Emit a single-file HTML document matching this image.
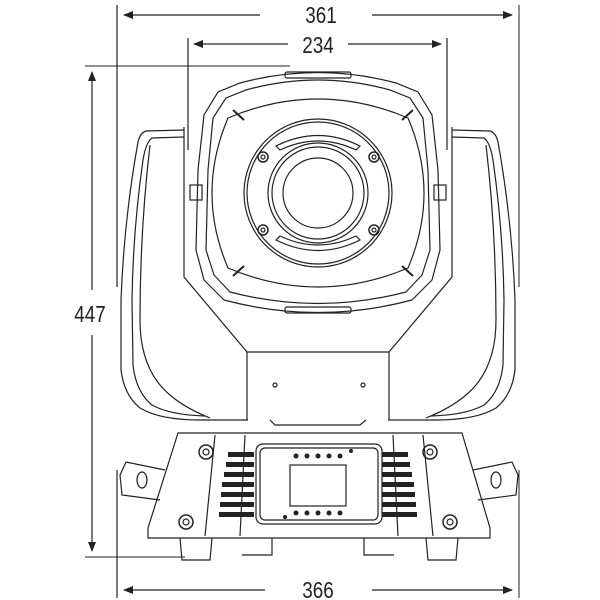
<!DOCTYPE html>
<html><head><style>html,body{margin:0;padding:0;background:#fff}svg{display:block}</style></head>
<body>
<svg width="600" height="600" viewBox="0 0 600 600" xmlns="http://www.w3.org/2000/svg">
<defs>
<marker id="a" markerWidth="10" markerHeight="8" refX="9" refY="4" orient="auto" markerUnits="userSpaceOnUse"><path d="M0,0 L10,4 L0,8 Z" fill="#222"/></marker>
</defs>
<g stroke="#222" stroke-width="1.2" fill="none">
<!-- dimension lines -->
<line x1="117" y1="5" x2="117" y2="287"/>
<line x1="117" y1="470" x2="117" y2="598"/>
<line x1="519" y1="5" x2="519" y2="287" stroke-width="1"/>
<line x1="519" y1="470" x2="519" y2="598" stroke-width="1"/>
<line x1="260" y1="15" x2="124" y2="15" marker-end="url(#a)"/>
<line x1="372" y1="15" x2="512" y2="15" marker-end="url(#a)"/>
<line x1="188" y1="38" x2="188" y2="150"/>
<line x1="447" y1="38" x2="447" y2="150"/>
<line x1="288" y1="44" x2="194" y2="44" marker-end="url(#a)"/>
<line x1="348" y1="44" x2="441" y2="44" marker-end="url(#a)"/>
<line x1="85" y1="66" x2="290" y2="66" stroke-width="1"/>
<line x1="85" y1="557" x2="185" y2="557" stroke-width="1"/>
<line x1="92" y1="290" x2="92" y2="72" marker-end="url(#a)"/>
<line x1="92" y1="335" x2="92" y2="551" marker-end="url(#a)"/>
<line x1="265" y1="590" x2="124" y2="590" marker-end="url(#a)"/>
<line x1="372" y1="590" x2="512" y2="590" marker-end="url(#a)"/>

<!-- yoke arms -->
<path d="M184,130 L146,131 Q140,133 138,142 Q124,220 121,300 L121,370 Q124,395 140,408 Q160,420 200,420 L248,420"/>
<path d="M184,137 L152,138 Q146,142 143,160 Q133,230 132,300 L133,365 Q136,392 152,405 Q170,415 205,416"/>
<path d="M150,145 Q140,230 140,320 Q140,370 170,395 Q185,408 210,418"/>
<path d="M452,130 L490,131 Q496,133 498,142 Q512,220 515,300 L515,370 Q512,395 496,408 Q476,420 436,420 L388,420"/>
<path d="M452,137 L484,138 Q490,142 493,160 Q503,230 504,300 L503,365 Q500,392 484,405 Q466,415 431,416"/>
<path d="M486,145 Q496,230 496,320 Q496,370 466,395 Q451,408 426,418"/>
<path d="M184,127 L184,277 L247,352 L247,420"/>
<path d="M452,127 L452,277 L389,352 L389,420"/>
<line x1="247" y1="352" x2="389" y2="352"/>
<circle cx="275" cy="385" r="2"/><circle cx="363" cy="385" r="2"/>

<!-- head -->
<path d="M240,83 Q318,62 396,83 L418,92 L432,115 L438,170 L440,250 L432,280 L412,300 Q318,325 224,300 L204,280 L196,250 L198,170 L204,115 L218,92 Z"/>
<path d="M246,90 Q318,70 390,90 L410,98 L423,118 L428,170 L430,250 L422,275 L406,292 Q318,315 230,292 L214,275 L206,250 L208,170 L213,118 L226,98 Z"/>
<path d="M228,118 Q318,80 408,118 Q440,193 408,268 Q318,306 228,268 Q196,193 228,118 Z"/>
<rect x="285" y="72" width="66" height="6" rx="2"/>
<rect x="285" y="307" width="66" height="6" rx="2"/>
<path d="M233,110 L244,120 M402,120 L413,110 M233,276 L244,266 M402,266 L413,276" stroke-width="2"/>
<rect x="190" y="185" width="12" height="15"/>
<rect x="434" y="185" width="12" height="15"/>
<!-- lens -->
<circle cx="318" cy="193" r="74"/>
<circle cx="318" cy="193" r="71"/>
<circle cx="318" cy="193" r="50"/>
<circle cx="318" cy="193" r="46"/>
<circle cx="318" cy="193" r="35"/>
<path d="M276,146 Q318,125 360,146 L356,150 Q318,132 280,150 Z"/>
<path d="M276,240 Q318,261 360,240 L356,236 Q318,254 280,236 Z"/>
<g stroke-width="1.5"><circle cx="263" cy="157" r="5"/><circle cx="374" cy="157" r="5"/><circle cx="263" cy="230" r="5"/><circle cx="374" cy="230" r="5"/></g>
<g><circle cx="263" cy="157" r="2"/><circle cx="374" cy="157" r="2"/><circle cx="263" cy="230" r="2"/><circle cx="374" cy="230" r="2"/></g>

<!-- base -->
<path d="M270,420 L275,425 L360,425 L366,420"/>
<path d="M178,433 L462,433 L490,528 L490,538 L148,538 L148,528 Z"/>
<path d="M215,435 L205,536 M245,435 L240,536 M393,435 L398,536 M423,435 L433,536"/>
<rect x="256" y="444" width="126" height="80" rx="7"/>
<rect x="260" y="448" width="118" height="72" rx="5"/>
<rect x="290" y="465" width="56" height="41"/>
<g stroke-width="1.5"><circle cx="206" cy="452" r="7"/><circle cx="430" cy="452" r="7"/><circle cx="186" cy="522" r="7"/><circle cx="450" cy="522" r="7"/></g>
<g><circle cx="206" cy="452" r="3"/><circle cx="430" cy="452" r="3"/><circle cx="186" cy="522" r="3"/><circle cx="450" cy="522" r="3"/></g>
<!-- handles -->
<path d="M165,470 L126,462 L120,475 L122,495 L160,500"/>
<ellipse cx="142" cy="480" rx="5" ry="8"/>
<path d="M473,470 L512,462 L518,475 L516,495 L478,500"/>
<ellipse cx="496" cy="480" rx="5" ry="8"/>
<!-- feet -->
<path d="M180,538 L182,560 L210,560 L212,538"/>
<path d="M426,538 L428,560 L456,560 L458,538"/>
<path d="M242,555 L272,555 L272,538 M364,538 L364,555 L394,555"/>
</g>
<!-- vents -->
<g fill="#222">
<rect x="228" y="452" width="26" height="5"/><rect x="226" y="462" width="28" height="5"/><rect x="224" y="472" width="30" height="5"/><rect x="222" y="482" width="32" height="5"/><rect x="221" y="492" width="33" height="5"/><rect x="220" y="502" width="34" height="5"/><rect x="219" y="512" width="35" height="5"/>
<rect x="382" y="452" width="26" height="5"/><rect x="382" y="462" width="28" height="5"/><rect x="382" y="472" width="30" height="5"/><rect x="382" y="482" width="32" height="5"/><rect x="382" y="492" width="33" height="5"/><rect x="382" y="502" width="34" height="5"/><rect x="382" y="512" width="35" height="5"/>
<circle cx="296" cy="456" r="2.5"/><circle cx="307" cy="456" r="2.5"/><circle cx="318" cy="456" r="2.5"/><circle cx="329" cy="456" r="2.5"/><circle cx="340" cy="456" r="2.5"/><circle cx="351" cy="451" r="2"/>
<circle cx="296" cy="513" r="2.5"/><circle cx="307" cy="513" r="2.5"/><circle cx="318" cy="513" r="2.5"/><circle cx="329" cy="513" r="2.5"/><circle cx="340" cy="513" r="2.5"/><circle cx="285" cy="517" r="2"/>
</g>
<g font-family="Liberation Sans, sans-serif" font-size="23" fill="#222" text-anchor="middle">
<text transform="translate(321,23) scale(0.82,1)">361</text>
<text transform="translate(318,53) scale(0.82,1)">234</text>
<text transform="translate(90,322) scale(0.82,1)">447</text>
<text transform="translate(318,598) scale(0.82,1)">366</text>
</g>
</svg>
</body></html>
